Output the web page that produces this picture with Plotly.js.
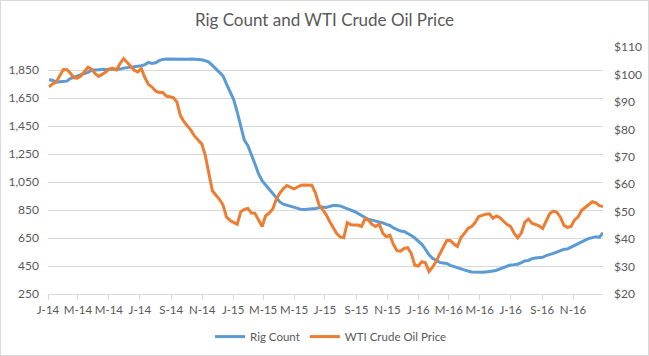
<!DOCTYPE html>
<html>
<head>
<meta charset="utf-8">
<script src="https://cdn.plot.ly/plotly-3.0.1.min.js"></script>
<style>
  html, body { margin: 0; padding: 0; background: #fff; }
  #chart { width: 649px; height: 356px; box-sizing: border-box; border: 1px solid #D9D9D9; }
</style>
</head>
<body>
<div id="chart"></div>
<script>
// Weekly observations, first Friday 2014-01-03
const startDate = '2014-01-03';

const rigCount = [
  1782,1778,1765,1766,1770,1772,1790,1802,1810,1818,1825,1835,1850,1853,1855,1855,
  1856,1857,1856,1855,1858,1865,1868,1870,1872,1876,1882,1890,1906,1898,1903,1918,
  1927,1930,1929,1929,1927,1926,1929,1929,1930,1930,1929,1925,1918,1908,1885,1862,
  1840,1810,1750,1690,1640,1550,1440,1350,1310,1250,1180,1110,1060,1030,1000,965,
  935,908,892,884,878,868,858,855,854,855,858,862,866,872,869,876,
  882,883,880,870,858,850,840,825,807,795,783,778,772,765,758,748,
  740,722,709,700,697,685,668,650,630,605,570,530,505,488,476,472,
  468,455,446,441,433,422,414,407,405,405,405,408,410,414,420,430,
  440,452,458,460,463,475,487,490,503,507,508,512,525,530,540,550,
  560,570,572,585,595,610,626,636,647,653,660,656,688
];

const wtiPrice = [
  95.5,96.6,97.2,99.5,101.7,101.8,100.5,98.8,98.6,99.5,101,102.6,101.8,100.3,99.3,100,
  100.9,102,102.2,101.6,104,105.8,104.5,103,101.5,100.9,102.1,98.8,96.4,95.4,94,93.4,
  93.5,92.1,91.9,91.6,90,85,82.8,81.2,79.6,77.5,76.2,74.7,70.5,63.5,57.6,56,
  54.5,52.4,48,46.8,46,45.4,50,50.8,51.2,49.5,49.4,47,44.6,48.5,49.5,51,
  54.5,56.8,58.4,59.5,59,58.3,59,59.6,59.7,59.7,59.6,57,52.6,50.8,49,46.5,
  44.3,42,40.8,40.5,46,45.2,45.1,45.1,44.6,47.5,46.8,45.3,44.6,45.5,42.1,40.9,
  41.4,38,35.8,35.6,36.6,36.9,34.8,30.5,30.2,31.8,31.4,28.2,29.8,31.8,34.5,37.3,
  39.5,39.5,38.2,37.3,40.6,42.1,43.9,44.6,46,48.2,48.7,49.1,49.2,47.6,48.4,47.8,
  46.5,45.3,44.6,42.1,40.5,42.2,46.2,47.3,45.8,45.3,44.8,43.9,46.5,49.3,50.2,49.8,
  48,45,44.3,44.6,47,48.1,50.5,51.6,52.4,53.6,53.2,52.2,51.9
];

const xTickVals = ['2014-01-01','2014-03-01','2014-05-01','2014-07-01','2014-09-01','2014-11-01',
                   '2015-01-01','2015-03-01','2015-05-01','2015-07-01','2015-09-01','2015-11-01',
                   '2016-01-01','2016-03-01','2016-05-01','2016-07-01','2016-09-01','2016-11-01'];
const xTickText = ['J-14','M-14','M-14','J-14','S-14','N-14',
                   'J-15','M-15','M-15','J-15','S-15','N-15',
                   'J-16','M-16','M-16','J-16','S-16','N-16'];
const leftTicks = [250,450,650,850,1050,1250,1450,1650,1850];
const rightTicks = [20,30,40,50,60,70,80,90,100,110];
const rightTickText = ['$20','$30','$40','$50','$60','$70','$80','$90','$100','$110'];

function weeklyDates(start, n) {
  const out = [];
  const d0 = new Date(start + 'T00:00:00Z');
  for (let i = 0; i < n; i++) {
    const d = new Date(d0.getTime() + i * 7 * 86400000);
    out.push(d.toISOString().slice(0, 10));
  }
  return out;
}
const dates = weeklyDates(startDate, rigCount.length);

const font = "Lato, 'Open Sans', sans-serif";
const txt = '#595959';
const grid = '#D9D9D9';

const traces = [
  { x: dates, y: rigCount, name: 'Rig Count', type: 'scatter', mode: 'lines',
    line: { color: '#5B9BD5', width: 3 }, yaxis: 'y' },
  { x: dates, y: wtiPrice, name: 'WTI Crude Oil Price', type: 'scatter', mode: 'lines',
    line: { color: '#ED7D31', width: 3 }, yaxis: 'y2' }
];

const layout = {
  width: 647, height: 354,
  margin: { l: 47, r: 45, t: 46, b: 61, autoexpand: false },
  paper_bgcolor: '#fff', plot_bgcolor: '#fff',
  font: { family: font, size: 12, color: txt },
  title: { text: 'Rig Count and WTI Crude Oil Price', x: 0.5, xanchor: 'center',
           y: 0.945, yanchor: 'middle', font: { family: font, size: 17, color: txt } },
  showlegend: true,
  legend: { orientation: 'h', x: 0.51, xanchor: 'center', yref: 'container', y: 0.052, yanchor: 'middle',
            font: { family: font, size: 11.5, color: txt }, tracegroupgap: 0 },
  xaxis: {
    type: 'date', range: ['2014-01-01', '2016-12-30'],
    tickmode: 'array', tickvals: xTickVals, ticktext: xTickText, tickangle: 0,
    ticks: 'outside', ticklen: 5, tickcolor: grid, tickwidth: 1,
    showline: true, linecolor: grid, linewidth: 1,
    showgrid: false, zeroline: false,
    tickfont: { family: font, size: 11.5, color: txt }
  },
  yaxis: {
    range: [250, 2016], tickmode: 'array', tickvals: leftTicks, tickformat: ',',
    showgrid: true, gridcolor: grid, gridwidth: 1, zeroline: false, showline: false,
    ticks: '', ticklabelstandoff: 8,
    tickfont: { family: font, size: 12, color: txt }
  },
  yaxis2: {
    overlaying: 'y', side: 'right', range: [20, 110],
    tickmode: 'array', tickvals: rightTicks, ticktext: rightTickText,
    showgrid: false, zeroline: false, showline: false, ticks: '', ticklabelstandoff: 10,
    tickfont: { family: font, size: 12, color: txt }
  }
};

Plotly.newPlot('chart', traces, layout, { displayModeBar: false, staticPlot: true });
</script>
</body>
</html>
